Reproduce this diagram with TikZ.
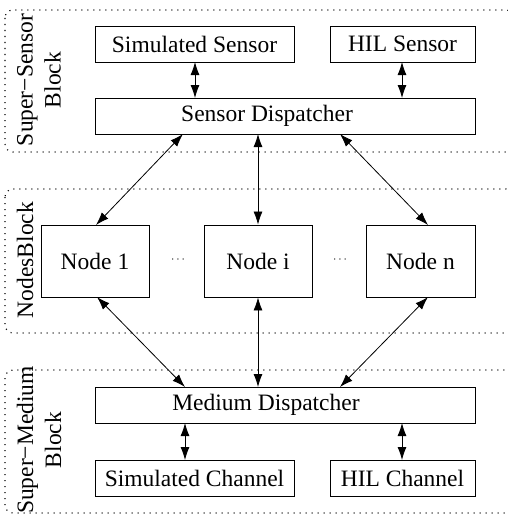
\documentclass[tikz,border=0pt]{standalone}
\usepackage{fontspec}
\setmainfont{Liberation Serif}
\usetikzlibrary{arrows.meta}
\begin{document}
\begin{tikzpicture}[x=1pt,y=-1pt,
  font=\fontsize{23.5}{28}\selectfont,
  box/.style={draw,line width=0.9pt,inner sep=0pt},
  txt/.style={inner sep=0pt},
  dotsym/.style={inner sep=0pt,font=\fontsize{13}{15}\selectfont},
  blockframe/.style={line width=1.1pt,dash pattern=on 1.1pt off 4.9pt,rounded corners=8pt},
  conn/.style={line width=0.8pt,{Latex[length=13pt,width=9pt]}-{Latex[length=13pt,width=9pt]}},
  side/.style={rotate=90,align=center,inner sep=0pt}]
\useasboundingbox (0,0) rectangle (508,519);
% blocks
\draw[blockframe] (5,10) rectangle (514,152);
\draw[blockframe] (5,189) rectangle (514,333);
\draw[blockframe] (5,370) rectangle (514,513);
\node[side] (lsens) at (39,80) {Super−Sensor\\Block};
\node[side] (lnodes) at (25,260) {NodesBlock};
\node[side] (lmed) at (39,440) {Super−Medium\\Block};
% boxes
\node[box,minimum width=199pt,minimum height=36pt] (ss) at (194.5,44) {Simulated Sensor};
\node[box,minimum width=145pt,minimum height=36pt] (hs) at (402.5,44) {HIL Sensor};
\node[box,minimum width=380pt,minimum height=36pt] (sd) at (285,116) {};
\node[txt] (sdt) at (267,116) {Sensor Dispatcher};
\node[box,minimum width=108pt,minimum height=72pt] (n1) at (95,261) {Node 1};
\node[box,minimum width=108pt,minimum height=72pt] (ni) at (258,261) {Node i};
\node[box,minimum width=109pt,minimum height=72pt] (nn) at (420.5,261) {Node n};
\node[dotsym] (d1) at (178,260) {$\cdots$};
\node[dotsym] (d2) at (340,260) {$\cdots$};
\node[box,minimum width=380pt,minimum height=36pt] (md) at (285,405) {};
\node[txt] (mdt) at (266,405) {Medium Dispatcher};
\node[box,minimum width=199pt,minimum height=36pt] (sc) at (194.5,478) {Simulated Channel};
\node[box,minimum width=145pt,minimum height=36pt] (hc) at (402.5,478) {HIL Channel};
% attachment points
\coordinate (sdA) at (183,134);
\coordinate (sdB) at (258,134);
\coordinate (sdC) at (340,134);
\coordinate (n1T) at (96,225);
\coordinate (nnT) at (428,225);
\coordinate (n1B) at (97,297);
\coordinate (nnB) at (428,297);
\coordinate (mdA) at (185,387);
\coordinate (mdB) at (258,387);
\coordinate (mdC) at (340,387);
\coordinate (ssB) at (195,62);
\coordinate (sdT1) at (195,98);
\coordinate (hsB) at (402,62);
\coordinate (sdT2) at (402,98);
\coordinate (mdD1) at (185,423);
\coordinate (scT) at (185,460);
\coordinate (mdD2) at (402,423);
\coordinate (hcT) at (402,460);
% connectors
\draw[conn] (ssB) -- (sdT1);
\draw[conn] (hsB) -- (sdT2);
\draw[conn] (sdA) -- (n1T);
\draw[conn] (sdB) -- (ni.north);
\draw[conn] (sdC) -- (nnT);
\draw[conn] (n1B) -- (mdA);
\draw[conn] (ni.south) -- (mdB);
\draw[conn] (nnB) -- (mdC);
\draw[conn] (mdD1) -- (scT);
\draw[conn] (mdD2) -- (hcT);
\end{tikzpicture}
\end{document}
